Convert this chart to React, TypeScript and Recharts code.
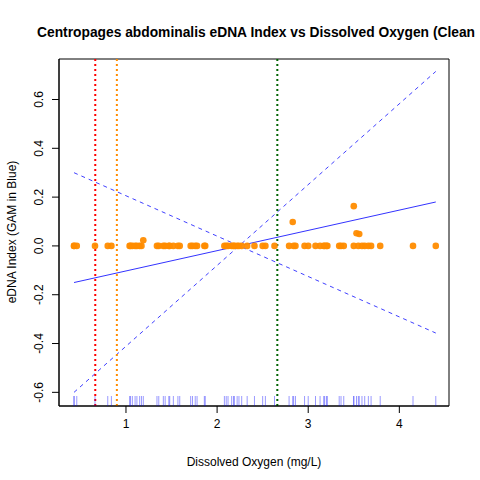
import React from 'react';
import {
  ComposedChart,
  Scatter,
  Line,
  XAxis,
  YAxis,
  ReferenceLine,
  ReferenceArea
} from 'recharts';

// Dissolved oxygen (mg/L) for each sample and its eDNA index
const doValues = [
  0.43, 0.43, 0.46, 0.66, 0.80, 0.84, 1.04, 1.05, 1.07, 1.10, 1.12, 1.15, 1.17, 1.19,
  1.34, 1.36, 1.41, 1.43, 1.47, 1.48, 1.52, 1.57, 1.59, 1.71, 1.73, 1.76, 1.78, 1.86,
  1.87, 2.08, 2.10, 2.12, 2.16, 2.18, 2.19, 2.22, 2.24, 2.27, 2.33, 2.41, 2.50, 2.53,
  2.63, 2.79, 2.83, 2.84, 2.86, 2.96, 3.00, 3.08, 3.13, 3.17, 3.18, 3.20, 3.21, 3.34,
  3.36, 3.39, 3.50, 3.50, 3.53, 3.56, 3.55, 3.59, 3.62, 3.66, 3.69, 3.79, 4.15, 4.40
];
const ednaIndex = [
  0, 0, 0, 0, 0, 0, 0, 0, 0, 0, 0, 0, 0, 0.023,
  0, 0, 0, 0, 0, 0, 0, 0, 0, 0, 0, 0, 0, 0,
  0, 0, 0, 0, 0, 0, 0, 0, 0, 0, 0, 0, 0, 0,
  0, 0, 0.098, 0, 0, 0, 0, 0, 0, 0, 0, 0, 0, 0,
  0, 0, 0.163, 0, 0.052, 0.049, 0, 0, 0, 0, 0, 0, 0, 0
];

// GAM fit (blue) and its dashed bounds, at both ends of the data
const fitX = [0.43, 4.4];
const fitY = [-0.15, 0.18];
const boundA = [-0.6, 0.715];
const boundB = [0.3, -0.357];

// Threshold lines
const thresholds = [
  { x: 0.663, color: '#FF0000' },
  { x: 0.9, color: '#FF8C00' },
  { x: 2.661, color: '#006400' }
];

const xTicks = [1, 2, 3, 4];
const yTicks = [-0.6, -0.4, -0.2, 0, 0.2, 0.4, 0.6];
const X_DOMAIN = [0.265, 4.545];
const Y_DOMAIN = [-0.656, 0.766];

const points = doValues.map((x, i) => ({ x, y: ednaIndex[i] }));
const rug = doValues.map(x => ({ x, y: Y_DOMAIN[0] }));
const fitLine = fitX.map((x, i) => ({ x, y: fitY[i] }));
const lineA = fitX.map((x, i) => ({ x, y: boundA[i] }));
const lineB = fitX.map((x, i) => ({ x, y: boundB[i] }));

const FONT = '"Liberation Sans", Arial, Helvetica, sans-serif';

const RugTick = (props: any) => (
  <line
    x1={props.cx}
    x2={props.cx}
    y1={props.cy}
    y2={props.cy - 10}
    stroke="#0000FF"
    strokeOpacity={0.4}
    strokeWidth={1}
  />
);

const Dot = (props: any) => (
  <circle cx={props.cx} cy={props.cy} r={3.3} fill="#FF8C00" fillOpacity={0.95} />
);

const YTick = (props: any) => {
  const { x, y, payload } = props;
  return (
    <text
      x={x - 3}
      y={y}
      transform={`rotate(-90, ${x - 3}, ${y})`}
      textAnchor="middle"
      fontSize={12}
      fontFamily={FONT}
      fill="#000"
    >
      {payload.value === 0 ? '0.0' : payload.value.toFixed(1)}
    </text>
  );
};

export default function App() {
  return (
    <div
      style={{
        position: 'absolute',
        top: 0,
        left: 0,
        width: 480,
        height: 480,
        overflow: 'hidden',
        background: '#fff'
      }}
    >
      <ComposedChart
        width={480}
        height={480}
        margin={{ top: 59, right: 31, left: 14, bottom: 44 }}
      >
        <XAxis
          type="number"
          dataKey="x"
          domain={X_DOMAIN}
          allowDataOverflow
          ticks={xTicks}
          height={30}
          tickSize={7}
          tickMargin={6}
          axisLine={{ stroke: '#000' }}
          tickLine={{ stroke: '#000' }}
          tick={{ fill: '#000', fontSize: 12, fontFamily: FONT }}
        />
        <YAxis
          type="number"
          dataKey="y"
          domain={Y_DOMAIN}
          allowDataOverflow
          ticks={yTicks}
          width={45}
          tickSize={7}
          tickMargin={6}
          axisLine={{ stroke: '#000' }}
          tickLine={{ stroke: '#000' }}
          tick={<YTick />}
        />
        <ReferenceArea
          x1={X_DOMAIN[0]}
          x2={X_DOMAIN[1]}
          y1={Y_DOMAIN[0]}
          y2={Y_DOMAIN[1]}
          fill="none"
          stroke="#000"
          strokeWidth={1}
        />
        <Scatter data={rug} shape={<RugTick />} isAnimationActive={false} />
        <Scatter data={points} shape={<Dot />} isAnimationActive={false} />
        <Line
          data={fitLine}
          dataKey="y"
          stroke="#0000FF"
          strokeOpacity={0.8}
          strokeWidth={1}
          dot={false}
          isAnimationActive={false}
        />
        <Line
          data={lineA}
          dataKey="y"
          stroke="#0000FF"
          strokeOpacity={0.75}
          strokeWidth={1}
          strokeDasharray="4 4"
          dot={false}
          isAnimationActive={false}
        />
        <Line
          data={lineB}
          dataKey="y"
          stroke="#0000FF"
          strokeOpacity={0.75}
          strokeWidth={1}
          strokeDasharray="4 4"
          dot={false}
          isAnimationActive={false}
        />
        {thresholds.map(t => (
          <ReferenceLine
            key={t.x}
            x={t.x}
            stroke={t.color}
            strokeWidth={2}
            strokeDasharray="2 3"
          />
        ))}
      </ComposedChart>
      <svg
        width={480}
        height={480}
        style={{ position: 'absolute', top: 0, left: 0, pointerEvents: 'none' }}
      >
        <text x={37} y={37} fontSize={13.8} fontWeight="bold" fontFamily={FONT} fill="#000">
          Centropages abdominalis eDNA Index vs Dissolved Oxygen (Clean
        </text>
        <text x={254} y={466} textAnchor="middle" fontSize={12} fontFamily={FONT} fill="#000">
          Dissolved Oxygen (mg/L)
        </text>
        <text
          x={16}
          y={232}
          transform="rotate(-90, 16, 232)"
          textAnchor="middle"
          fontSize={12}
          fontFamily={FONT}
          fill="#000"
        >
          eDNA Index (GAM in Blue)
        </text>
      </svg>
    </div>
  );
}
